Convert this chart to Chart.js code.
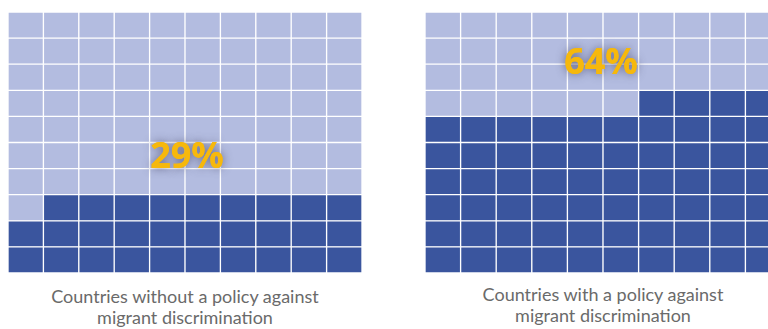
<!DOCTYPE html>
<html>
<head>
<meta charset="utf-8">
<script src="https://cdn.jsdelivr.net/npm/chart.js@4"></script>
<style>
  body { margin: 0; }
  #page { position: relative; width: 768px; height: 329px; overflow: hidden; background: #fff; }
  canvas { position: absolute; }
  .caption {
    position: absolute; width: 370px; text-align: center;
    font-family: Lato, "Open Sans", sans-serif; font-size: 18px; line-height: 21px; color: #6a6a6a;
  }
</style>
</head>
<body>
<div id="page">
  <canvas id="leftChart" width="354" height="261" style="left:8px;top:12px"></canvas>
  <canvas id="rightChart" width="356" height="261" style="left:425px;top:12px"></canvas>
  <div class="caption" id="leftCaption" style="left:0px;top:286px"></div>
  <div class="caption" id="rightCaption" style="left:418px;top:284px"></div>
</div>
<script>
// data for the two waffles
const categories = [
  ["Countries without a policy against", "migrant discrimination"],
  ["Countries with a policy against", "migrant discrimination"],
];
const percentValues = [29, 64];
const gridCols = 10;
const gridRows = 10;

// colours
const darkBlue = "#3a559e";
const lightBlue = "#b3bce0";
const labelGold = "#f6b80c";

// where the % label sits, in grid rows (from bottom)
const labelRows = [4.4, 8.0];

// one dataset per row, stacked from the bottom; cells fill right to left
const buildDatasets = (pct) => {
  const datasets = [];
  for (let r = 0; r < gridRows; r++) {
    const colors = [];
    for (let c = 0; c < gridCols; c++) {
      const order = r * gridCols + (gridCols - 1 - c);
      colors.push(order < pct ? darkBlue : lightBlue);
    }
    datasets.push({
      data: new Array(gridCols).fill(1),
      backgroundColor: colors,
      borderColor: "#ffffff",
      borderWidth: 1,
      borderSkipped: false,
    });
  }
  return datasets;
};

// draws the big percent number on top of the grid
const percentLabel = {
  id: "percentLabel",
  afterDatasetsDraw(chart, args, opts) {
    const { ctx, chartArea, scales } = chart;
    const x = (chartArea.left + chartArea.right) / 2 + opts.dx;
    const y = scales.y.getPixelForValue(opts.row);
    ctx.save();
    ctx.font = "bold 36px 'Open Sans', sans-serif";
    ctx.textAlign = "center";
    ctx.textBaseline = "middle";
    ctx.shadowColor = "rgba(60, 60, 90, 0.7)";
    ctx.shadowBlur = 10;
    ctx.fillStyle = labelGold;
    ctx.fillText(opts.text, x, y);
    ctx.shadowBlur = 0;
    ctx.fillText(opts.text, x, y);
    ctx.restore();
  },
};

const makeWaffle = (canvasId, idx, dx) => {
  const ctx = document.getElementById(canvasId).getContext("2d");
  return new Chart(ctx, {
    type: "bar",
    data: {
      labels: Array.from({ length: gridCols }, (_, i) => String(i + 1)),
      datasets: buildDatasets(percentValues[idx]),
    },
    options: {
      responsive: false,
      animation: false,
      layout: { padding: 0 },
      datasets: { bar: { barPercentage: 1, categoryPercentage: 1 } },
      scales: {
        x: { stacked: true, display: false },
        y: { stacked: true, display: false, min: 0, max: gridRows },
      },
      plugins: {
        legend: { display: false },
        tooltip: { enabled: false },
        percentLabel: { text: percentValues[idx] + "%", row: labelRows[idx], dx: dx },
      },
    },
    plugins: [percentLabel],
  });
};

makeWaffle("leftChart", 0, 2);
makeWaffle("rightChart", 1, -2);

document.getElementById("leftCaption").innerHTML = categories[0].join("<br>");
document.getElementById("rightCaption").innerHTML = categories[1].join("<br>");
</script>
</body>
</html>
